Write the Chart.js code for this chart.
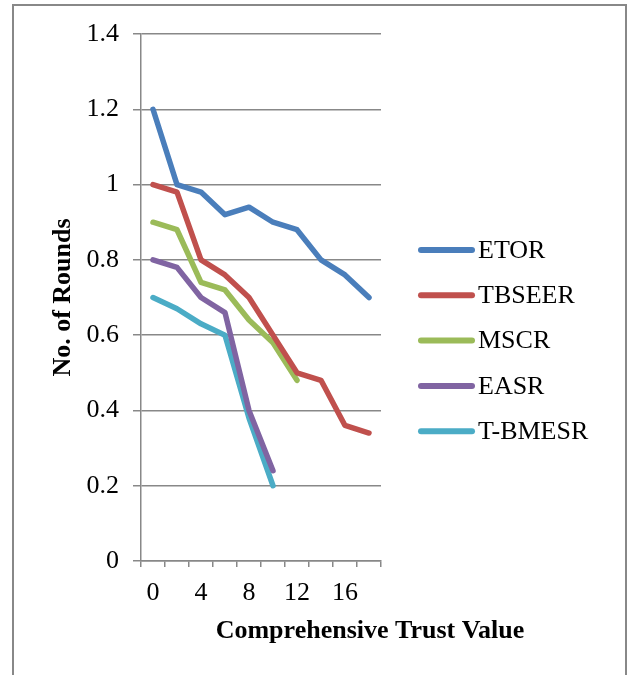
<!DOCTYPE html>
<html>
<head>
<meta charset="utf-8">
<script src="https://cdn.jsdelivr.net/npm/chart.js@4/dist/chart.umd.min.js"></script>
<style>
  body { margin: 0; background: #fff; }
  canvas { display: block; }
</style>
</head>
<body>
<canvas id="chart" width="628" height="675"></canvas>
<script>
// categories on the x axis (trust value)
const trustValues = ["0", "2", "4", "6", "8", "10", "12", "14", "16", "18"];

// rounds per method
const etor = [1.2, 1.0, 0.98, 0.92, 0.94, 0.9, 0.88, 0.8, 0.76, 0.7];
const tbseer = [1.0, 0.98, 0.8, 0.76, 0.7, 0.6, 0.5, 0.48, 0.36, 0.34];
const mscr = [0.9, 0.88, 0.74, 0.72, 0.64, 0.58, 0.48];
const easr = [0.8, 0.78, 0.7, 0.66, 0.4, 0.24];
const tbmesr = [0.7, 0.67, 0.63, 0.6, 0.38, 0.2];

const seriesNames = ["ETOR", "TBSEER", "MSCR", "EASR", "T-BMESR"];
const seriesColors = ["#4a7ebb", "#c0504d", "#9bbb59", "#8064a2", "#4bacc6"];

const gridGray = "#888888";
const serif = "'Liberation Serif', 'Times New Roman', serif";

function makeSet(i, values) {
    return {
        label: seriesNames[i],
        data: values,
        borderColor: seriesColors[i],
        backgroundColor: seriesColors[i],
        borderWidth: 5.5,
        borderCapStyle: "round",
        borderJoinStyle: "round",
        pointRadius: 0,
        tension: 0,
        fill: false
    };
}

// frame, custom legend and x title
const extras = {
    id: "extras",
    beforeDraw(chart) {
        const ctx = chart.ctx;
        ctx.save();
        ctx.fillStyle = "#fff";
        ctx.fillRect(0, 0, chart.width, chart.height);
        ctx.strokeStyle = gridGray;
        ctx.lineWidth = 2;
        ctx.strokeRect(13, 5, 613, 700);
        ctx.restore();
    },
    afterDraw(chart) {
        const ctx = chart.ctx;
        ctx.save();
        chart.data.datasets.forEach((ds, i) => {
            const y = 250 + i * 45.3;
            ctx.strokeStyle = ds.borderColor;
            ctx.lineWidth = 6;
            ctx.lineCap = "round";
            ctx.beginPath();
            ctx.moveTo(421, y);
            ctx.lineTo(472, y);
            ctx.stroke();
            ctx.fillStyle = "#000";
            ctx.font = "26px " + serif;
            ctx.textBaseline = "middle";
            ctx.textAlign = "left";
            ctx.fillText(ds.label, 478, y + 1);
        });
        ctx.font = "bold 26px " + serif;
        ctx.textAlign = "center";
        ctx.textBaseline = "middle";
        ctx.fillStyle = "#000";
        ctx.fillText("Comprehensive Trust Value", 370, 631);
        ctx.restore();
    }
};

new Chart(document.getElementById("chart"), {
    type: "line",
    data: {
        labels: trustValues,
        datasets: [
            makeSet(0, etor),
            makeSet(1, tbseer),
            makeSet(2, mscr),
            makeSet(3, easr),
            makeSet(4, tbmesr)
        ]
    },
    options: {
        responsive: false,
        animation: false,
        layout: { padding: { top: 34, right: 247, left: 0, bottom: 0 } },
        plugins: {
            legend: { display: false },
            tooltip: { enabled: false }
        },
        scales: {
            x: {
                offset: true,
                grid: {
                    offset: true,
                    drawOnChartArea: false,
                    drawTicks: true,
                    tickLength: 6,
                    color: gridGray,
                    lineWidth: 1.5
                },
                border: { color: gridGray, width: 1.5 },
                ticks: {
                    autoSkip: false,
                    maxRotation: 0,
                    padding: 11,
                    color: "#000",
                    font: { family: serif, size: 26 },
                    callback: function (val, i) {
                        return i % 2 === 0 ? this.getLabelForValue(val) : "";
                    }
                },
                afterFit(scale) { scale.height = 114; }
            },
            y: {
                min: 0,
                max: 1.4,
                grid: {
                    color: gridGray,
                    lineWidth: 1.5,
                    tickLength: 8
                },
                border: { color: gridGray, width: 1.5 },
                ticks: {
                    stepSize: 0.2,
                    padding: 14,
                    color: "#000",
                    font: { family: serif, size: 26 },
                    callback: (val) => String(Number(val.toFixed(1)))
                },
                title: {
                    display: true,
                    text: "No. of Rounds",
                    color: "#000",
                    font: { family: serif, size: 26, weight: "bold" },
                    padding: { top: 48, bottom: 0 }
                },
                afterFit(scale) { scale.width = 141; }
            }
        }
    },
    plugins: [extras]
});
</script>
</body>
</html>
